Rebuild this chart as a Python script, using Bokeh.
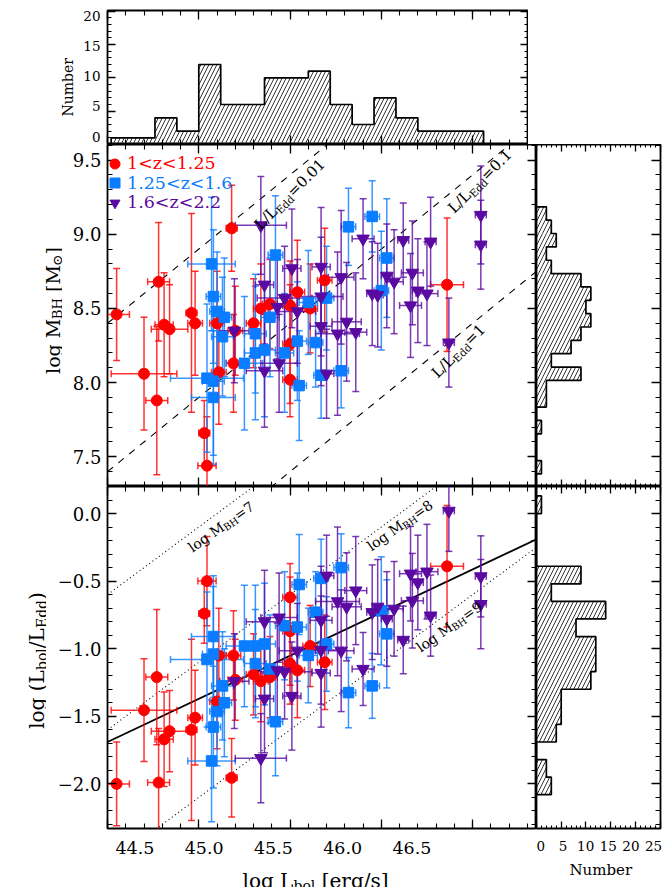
import numpy as np
from bokeh.plotting import figure
from bokeh.models import (Range1d, LinearAxis, FixedTicker, ColumnDataSource, Label,
                          Legend, LegendItem, PrintfTickFormatter, CustomJSTickFormatter, Spacer)
from bokeh.layouts import column, row
from bokeh.embed import file_html
from bokeh.resources import INLINE
from bokeh.core.properties import value

FONT = "DejaVu Serif"
RED = "#FF0000"
BLUE = "#0A7CFF"
PURPLE = "#5A0AA0"

# ---------------- data: 1 < z < 1.25 ----------------
red_logL = [45.18, 44.78, 44.55, 44.96, 44.81, 44.84, 44.98, 45.54, 45.61, 45.34,
            45.39, 45.50, 45.30, 45.10, 45.20, 45.69, 46.36, 44.70, 44.77, 45.03,
            45.045, 45.11, 45.19, 45.50, 45.50]
red_logM = [9.04, 8.68, 8.46, 8.47, 8.39, 8.36, 8.40, 8.61, 8.50, 8.50,
            8.53, 8.52, 8.40, 8.40, 8.35, 8.69, 8.66, 8.06, 7.88, 7.66,
            7.44, 8.07, 8.13, 8.26, 8.02]
red_errM = [0.29, 0.40, 0.31, 0.67, 0.35, 0.30, 0.35, 0.35, 0.30, 0.30,
            0.30, 0.30, 0.30, 0.35, 0.30, 0.35, 0.45, 0.38, 0.50, 0.22,
            0.33, 0.35, 0.33, 0.40, 0.25]
red_errL = [0.03, 0.06, 0.07, 0.03, 0.05, 0.10, 0.04, 0.04, 0.04, 0.04,
            0.04, 0.04, 0.04, 0.04, 0.04, 0.04, 0.09, 0.18, 0.06, 0.03,
            0.05, 0.04, 0.04, 0.04, 0.04]
red_edd = [-1.955, -1.99, -2.00, -1.60, -1.67, -1.61, -1.51, -1.16, -0.98, -1.24,
           -1.21, -1.11, -1.19, -1.39, -1.23, -1.10, -0.39, -1.455, -1.21, -0.74,
           -0.50, -1.05, -1.05, -0.87, -0.62]

# ---------------- data: 1.25 < z < 1.6 ----------------
blue_logL = [45.07, 45.42, 45.08, 45.10, 45.14, 45.39, 45.60, 45.31, 45.13, 45.82,
             45.95, 46.03, 46.00, 45.70, 45.64, 45.78, 45.55, 45.67, 45.25, 45.31,
             45.36, 45.47, 45.54, 45.045, 45.08, 45.08]
blue_logM = [8.80, 8.86, 8.58, 8.48, 8.44, 8.44, 8.54, 8.33, 8.31, 9.05,
             9.12, 8.84, 8.62, 8.57, 8.27, 8.08, 7.98, 8.05, 8.13, 8.20,
             8.22, 8.20, 8.28, 8.03, 8.01, 7.90]
blue_errM = [0.45, 0.40, 0.45, 0.40, 0.40, 0.40, 0.35, 0.40, 0.40, 0.26,
             0.24, 0.40, 0.40, 0.35, 0.30, 0.25, 0.37, 0.29, 0.45, 0.45,
             0.45, 0.40, 0.40, 0.50, 0.50, 0.45]
blue_errL = [0.13, 0.04, 0.04, 0.04, 0.04, 0.05, 0.05, 0.06, 0.06, 0.04,
             0.04, 0.04, 0.04, 0.04, 0.04, 0.04, 0.04, 0.04, 0.10, 0.06,
             0.06, 0.05, 0.05, 0.20, 0.06, 0.12]
blue_edd = [-1.83, -1.54, -1.58, -1.465, -1.40, -1.15, -1.05, -1.11, -1.275, -1.325,
            -1.275, -0.89, -0.72, -0.965, -0.73, -0.40, -0.525, -0.48, -0.98, -0.98,
            -0.965, -0.83, -0.84, -1.08, -1.04, -0.91]

# ---------------- data: 1.6 < z < 2.2 ----------------
purple_logL = [45.34, 45.51, 45.36, 45.47, 45.43, 45.54, 45.195, 46.545, 46.545, 45.90,
               46.12, 46.27, 45.78, 46.03, 46.07, 45.67, 45.95, 45.98, 46.20, 46.25,
               46.17, 46.16, 45.67, 45.81, 45.86, 45.76, 45.67, 46.37, 45.70, 45.36,
               45.44]
purple_logM = [9.06, 8.77, 8.66, 8.57, 8.51, 8.48, 8.35, 9.13, 8.93, 8.97,
               8.96, 8.95, 8.71, 8.72, 8.68, 8.78, 8.60, 8.59, 8.62, 8.60,
               8.74, 8.52, 8.58, 8.41, 8.34, 8.33, 8.38, 8.27, 8.06, 8.08,
               8.13]
purple_errM = [0.33, 0.40, 0.40, 0.35, 0.35, 0.35, 0.35, 0.33, 0.30, 0.27,
               0.25, 0.30, 0.45, 0.35, 0.35, 0.40, 0.35, 0.35, 0.35, 0.35,
               0.35, 0.35, 0.40, 0.40, 0.40, 0.55, 0.40, 0.30, 0.30, 0.38,
               0.33]
purple_errL = [0.14, 0.05, 0.05, 0.15, 0.05, 0.10, 0.08, 0.03, 0.03, 0.06,
               0.03, 0.03, 0.07, 0.03, 0.05, 0.05, 0.03, 0.03, 0.03, 0.06,
               0.06, 0.06, 0.12, 0.08, 0.06, 0.12, 0.06, 0.03, 0.04, 0.10,
               0.10]
purple_edd = [-1.81, -1.35, -1.37, -1.17, -1.16, -1.015, -1.24, -0.67, -0.465, -1.15,
              -0.935, -0.755, -1.015, -0.78, -0.705, -1.18, -0.73, -0.69, -0.51, -0.43,
              -0.645, -0.445, -1.01, -0.69, -0.57, -0.65, -0.79, 0.02, -0.46, -0.80,
              -0.77]

group_labels = ["1<z<1.25", "1.25<z<1.6", "1.6<z<2.2"]

# ---------------- histograms ----------------
lbol_edges = [44.52, 44.64, 44.76, 44.88, 45.00, 45.12, 45.24, 45.36, 45.48, 45.60,
              45.72, 45.84, 45.96, 46.08, 46.20, 46.32, 46.44, 46.56]
lbol_counts = [1, 1, 4, 2, 12, 6, 6, 10, 10, 11, 6, 3, 7, 4, 2, 2, 2]

mbh_edges = [7.385, 7.475, 7.565, 7.655, 7.745, 7.835, 7.925, 8.015, 8.105, 8.195,
             8.285, 8.375, 8.465, 8.555, 8.645, 8.735, 8.825, 8.915, 9.005, 9.095, 9.185]
mbh_counts = [1, 0, 0, 1, 0, 2, 2, 9, 3, 7, 9, 11, 10, 11, 9, 3, 2, 4, 3, 2]

edd_edges = [-2.08, -1.95, -1.82, -1.69, -1.56, -1.43, -1.30, -1.17, -1.04, -0.91,
             -0.78, -0.65, -0.52, -0.39, -0.26, -0.13, 0.00, 0.13]
edd_counts = [3, 2, 0, 4, 5, 5, 11, 12, 12, 8, 14, 3, 9, 0, 0, 0, 1]

# ---------------- reference relations ----------------
edd_const = 38.1                     # log(1.26e38) erg/s per solar mass
edd_ratio_levels = [0.01, 0.1, 1.0]
edd_level_text = ["=0.01", "=0.1", "=1"]
mbh_levels = [7, 8, 9]
fit_logL = [44.5, 46.85]
fit_edd = [-1.69, -0.19]

# ---------------- axis ticks ----------------
lbol_ticks = [44.5, 45.0, 45.5, 46.0, 46.5]
mbh_ticks = [7.5, 8.0, 8.5, 9.0, 9.5]
edd_ticks = [-2.0, -1.5, -1.0, -0.5, 0.0]
top_count_ticks = [0, 5, 10, 15, 20]
side_count_ticks = [0, 5, 10, 15, 20, 25]

XR = (44.5, 46.85)
YM = (7.30, 9.605)
YE = (-2.33, 0.20)

# ---------------- helpers ----------------
CW = {' ': 0.318, '(': 0.390, ')': 0.390, '.': 0.318, '/': 0.337, '=': 0.838,
      '[': 0.390, ']': 0.390, 'B': 0.733, 'E': 0.729, 'H': 0.872, 'L': 0.669,
      'M': 0.994, 'N': 0.837, 'b': 0.640, 'd': 0.640, 'e': 0.592, 'g': 0.640,
      'l': 0.320, 'o': 0.602, 'r': 0.478, 's': 0.513, 'u': 0.644, 'm': 0.948,
      '\u2299': 0.838}
for _d in "0123456789":
    CW[_d] = 0.636


def tw(s):
    return sum(CW.get(c, 0.6) for c in s)


def rich(p, x, y, pieces, size, angle=0.0, anchor="left", color="black"):
    a = np.radians(angle)
    total = sum(tw(t) * size * sc for t, sc, sh in pieces)
    adv = -total / 2.0 if anchor == "center" else 0.0
    for t, sc, sh in pieces:
        fs = size * sc
        lead = len(t) - len(t.lstrip(" "))
        adv += lead * CW[' '] * fs
        t2 = t.lstrip(" ")
        dx = adv * np.cos(a) - sh * size * np.sin(a)
        dy = adv * np.sin(a) + sh * size * np.cos(a)
        p.add_layout(Label(x=x, y=y, text=t2, angle=a, x_offset=dx, y_offset=dy,
                           text_font=FONT, text_font_size=f"{fs:.1f}px", text_color=color,
                           text_align="left", text_baseline="alphabetic"))
        adv += tw(t2) * fs


def make_fig(fw, fh, xr, yr, bl, br, bt, bb, outline=True):
    p = figure(frame_width=fw, frame_height=fh, x_range=Range1d(*xr), y_range=Range1d(*yr),
               min_border_left=bl, min_border_right=br, min_border_top=bt, min_border_bottom=bb,
               toolbar_location=None, output_backend="svg",
               x_axis_location=None, y_axis_location=None)
    p.grid.visible = False
    p.outline_line_color = "black" if outline else None
    p.outline_line_width = 1.8
    p.background_fill_color = "white"
    p.border_fill_color = "white"
    return p


def strip(w, h, top=0):
    # blank panel that only carries titles / tick labels
    return make_fig(w, h, (0, w), (0, h), 0, 0, top, 0, outline=False)


blank_fmt = CustomJSTickFormatter(code="return '';")


def tick_axis(p, side, major, minor, tmaj=9, tmin=5, labels=False, size="17px",
              standoff=7, fmt=None, range_name=None, ticks_visible=True):
    ax = LinearAxis(ticker=FixedTicker(ticks=list(major), minor_ticks=list(minor)))
    if range_name is not None:
        if side in ("left", "right"):
            ax.y_range_name = range_name
        else:
            ax.x_range_name = range_name
    ax.axis_line_color = None
    ax.major_tick_out = 0
    ax.minor_tick_out = 0
    if ticks_visible:
        ax.major_tick_in = tmaj
        ax.minor_tick_in = tmin
        ax.major_tick_line_color = "black"
        ax.minor_tick_line_color = "black"
        ax.major_tick_line_width = 1.3
        ax.minor_tick_line_width = 1.1
    else:
        ax.major_tick_in = 0
        ax.minor_tick_in = 0
        ax.major_tick_line_color = None
        ax.minor_tick_line_color = None
    if labels:
        ax.major_label_text_font = FONT
        ax.major_label_text_font_size = size
        ax.major_label_text_color = "black"
        ax.major_label_standoff = standoff
        if fmt is not None:
            ax.formatter = fmt
    else:
        ax.formatter = blank_fmt
        ax.major_label_text_font_size = "0px"
        ax.major_label_text_color = None
        ax.major_label_standoff = 0
    p.add_layout(ax, side)
    return ax


def outline_xy(edges, counts):
    e = np.asarray(edges, dtype=float)
    c = np.asarray(counts, dtype=float)
    xs = np.repeat(e, 2)
    ys = np.concatenate([[0.0], np.repeat(c, 2), [0.0]])
    return xs, ys


x_minor = np.round(np.arange(44.5, 46.851, 0.1), 2)
m_minor = np.round(np.arange(7.3, 9.61, 0.1), 2)
e_minor = np.round(np.arange(-2.3, 0.201, 0.1), 2)
top_minor = list(range(0, 21))
side_minor = list(range(0, 26))

f1 = PrintfTickFormatter(format="%.1f")
fint = PrintfTickFormatter(format="%d")
fminus = CustomJSTickFormatter(code="return tick.toFixed(1).replace('-', '\\u2212');")

# ---------------- figures ----------------
s_top = strip(74, 144)
p_top = make_fig(421, 134, (44.5, 46.806), (0, 20.1), 33, 0, 10, 0)
s_mid = strip(62, 342)
p_mid = make_fig(429, 342, XR, YM, 45, 0, 0, 0)
p_rmid = make_fig(124, 342, (0, 25.1), YM, 0, 9, 0, 0)
s_bot = strip(46, 346)
p_bot = make_fig(429, 342, XR, YE, 61, 0, 0, 4)
p_rbot = make_fig(124, 342, (0, 25.1), YE, 0, 9, 0, 4)
s_xl = strip(536, 29, top=26)    # tick labels of log L_bol + x title
s_xr = strip(133, 33, top=18)    # tick labels of the side histogram + "Number"

# ---- top histogram
p_top.extra_y_ranges = {"lab": Range1d(-1.32, 20.83)}
tick_axis(p_top, "left", top_count_ticks, top_minor, tmaj=8, tmin=4)
tick_axis(p_top, "left", top_count_ticks, [], labels=True, size="13.5px", standoff=7,
          fmt=fint, range_name="lab", ticks_visible=False)
tick_axis(p_top, "right", top_count_ticks, top_minor, tmaj=8, tmin=4)
tick_axis(p_top, "above", lbol_ticks, x_minor, tmaj=9, tmin=5)
tick_axis(p_top, "below", lbol_ticks, x_minor, tmaj=9, tmin=5)
p_top.quad(left=lbol_edges[:-1], right=lbol_edges[1:], bottom=0, top=lbol_counts,
           fill_alpha=0, line_alpha=0, hatch_pattern="/", hatch_color="black",
           hatch_scale=8, hatch_weight=0.8)
hx, hy = outline_xy(lbol_edges, lbol_counts)
p_top.line(hx, hy, line_color="black", line_width=1.7)
rich(s_top, 67, 67, [("Number", 1, 0)], 14, angle=90, anchor="center")

# ---- middle panel
tick_axis(p_mid, "left", mbh_ticks, m_minor, labels=True, size="18px", standoff=6, fmt=f1)
tick_axis(p_mid, "right", mbh_ticks, m_minor)
tick_axis(p_mid, "above", lbol_ticks, x_minor)
tick_axis(p_mid, "below", lbol_ticks, x_minor)

# ---- bottom panel
tick_axis(p_bot, "left", edd_ticks, e_minor, labels=True, size="18px", standoff=6, fmt=fminus)
tick_axis(p_bot, "right", edd_ticks, e_minor)
tick_axis(p_bot, "above", lbol_ticks, x_minor)
tick_axis(p_bot, "below", lbol_ticks, x_minor)

# tick labels of the bottom x axis (carried by the strip below the panel)
s_xl.extra_x_ranges = {"lab": Range1d(43.5295, 47.399)}
tick_axis(s_xl, "above", lbol_ticks, [], labels=True, size="17.5px", standoff=5, fmt=f1,
          range_name="lab", ticks_visible=False)

# reference lines
xr_arr = np.array(XR)
for r in edd_ratio_levels:
    p_mid.line(xr_arr, xr_arr - edd_const - np.log10(r), line_color="black",
               line_width=1.1, line_dash="7 7")
for m in mbh_levels:
    p_bot.line(xr_arr, xr_arr - edd_const - m, line_color="black", line_width=1.1,
               line_dash="1 3")
p_bot.line(fit_logL, fit_edd, line_color="black", line_width=1.8)

groups = [
    (red_logL, red_logM, red_errM, red_errL, red_edd, RED, "circle", 11),
    (blue_logL, blue_logM, blue_errM, blue_errL, blue_edd, BLUE, "square", 10.5),
    (purple_logL, purple_logM, purple_errM, purple_errL, purple_edd, PURPLE,
     "inverted_triangle", 12.5),
]
legend_rend = []
for (L, M, eM, eL, E, col, mk, sz) in groups:
    L = np.asarray(L); M = np.asarray(M); eM = np.asarray(eM); eL = np.asarray(eL)
    E = np.asarray(E)
    for p, Y in ((p_mid, M), (p_bot, E)):
        src = ColumnDataSource(dict(x=L, y=Y, yl=Y - eM, yu=Y + eM, xl=L - eL, xu=L + eL))
        p.segment(x0="x", y0="yl", x1="x", y1="yu", source=src, line_color=col,
                  line_width=1.5, line_alpha=0.8)
        p.segment(x0="xl", y0="y", x1="xu", y1="y", source=src, line_color=col,
                  line_width=1.5, line_alpha=0.8)
        for cy in ("yl", "yu"):
            p.scatter(x="x", y=cy, source=src, marker="dash", size=7, line_color=col,
                      line_width=1.5, line_alpha=0.8)
        for cx in ("xl", "xu"):
            p.scatter(x=cx, y="y", source=src, marker="dash", angle=np.pi / 2, size=7,
                      line_color=col, line_width=1.5, line_alpha=0.8)
for (L, M, eM, eL, E, col, mk, sz) in groups:
    for p, Y in ((p_mid, M), (p_bot, E)):
        r = p.scatter(x=L, y=Y, marker=mk, size=sz, fill_color=col, line_color=col)
        if p is p_mid:
            legend_rend.append(r)

# legend (one per group, to colour the texts)
leg_y = [310.5, 291, 271.5]
for rend, lab, col, ly in zip(legend_rend, group_labels, [RED, BLUE, PURPLE], leg_y):
    leg = Legend(items=[LegendItem(label=value(lab), renderers=[rend])], location=(-5, ly),
                 glyph_width=25, glyph_height=25, label_height=25, label_standoff=0,
                 label_text_font=FONT, label_text_font_size="17.5px", label_text_color=col,
                 padding=0, margin=0, spacing=0, border_line_color=None,
                 background_fill_alpha=0)
    p_mid.add_layout(leg)

# line labels
edd_lab_pos = [(45.32, 9.05), (46.38, 9.16), (46.29, 8.05)]
for (lx, ly), txt in zip(edd_lab_pos, edd_level_text):
    rich(p_mid, lx, ly, [("L/L", 1, 0), ("Edd", 0.7, -0.25), (txt, 1, 0)], 15, angle=45)
mbh_lab_pos = [(44.95, -0.26), (45.93, -0.25), (46.20, -1.0)]
for (lx, ly), m in zip(mbh_lab_pos, mbh_levels):
    rich(p_bot, lx, ly, [("log M", 1, 0), ("BH", 0.7, -0.25), (f"={m}", 1, 0)], 14, angle=35)

# axis titles (in the blank strips)
rich(s_mid, 52, 176, [("log M", 1, 0), ("BH", 0.7, -0.25), (" [M", 1, 0),
                      ("\u2299", 0.7, -0.25), ("]", 1, 0)], 19, angle=90, anchor="center")
rich(s_bot, 36, 172, [("log (L", 1, 0), ("bol", 0.7, -0.25), ("/L", 1, 0),
                      ("Edd", 0.7, -0.25), (")", 1, 0)], 20, angle=90, anchor="center")
rich(s_xl, 315, 7, [("log L", 1, 0), ("bol", 0.7, -0.25), (" [erg/s]", 1, 0)], 20,
     anchor="center")
rich(s_xr, 64, 14, [("Number", 1, 0)], 15, anchor="center")

# ---- right histograms
for p, edges, counts, yt, ym in ((p_rmid, mbh_edges, mbh_counts, mbh_ticks, m_minor),
                                 (p_rbot, edd_edges, edd_counts, edd_ticks, e_minor)):
    tick_axis(p, "right", yt, ym)
    tick_axis(p, "above", side_count_ticks, side_minor, tmaj=7, tmin=3)
    tick_axis(p, "below", side_count_ticks, side_minor, tmaj=7, tmin=3)
    p.quad(left=0, right=counts, bottom=edges[:-1], top=edges[1:], fill_alpha=0,
           line_alpha=0, hatch_pattern="/", hatch_color="black", hatch_scale=8,
           hatch_weight=0.8)
    oy, ox = outline_xy(edges, counts)
    p.line(ox, oy, line_color="black", line_width=1.7)

s_xr.extra_x_ranges = {"lab": Range1d(-0.885, 28.54)}
tick_axis(s_xr, "above", side_count_ticks, [], labels=True, size="13.5px", standoff=0,
          fmt=fint, range_name="lab", ticks_visible=False)

left_col = column(row(s_top, p_top), row(s_mid, p_mid), row(s_bot, p_bot), s_xl)
right_col = column(Spacer(width=133, height=144), p_rmid, p_rbot, s_xr)
layout = row(left_col, right_col)
open("out.html", "w").write(file_html(layout, INLINE))
